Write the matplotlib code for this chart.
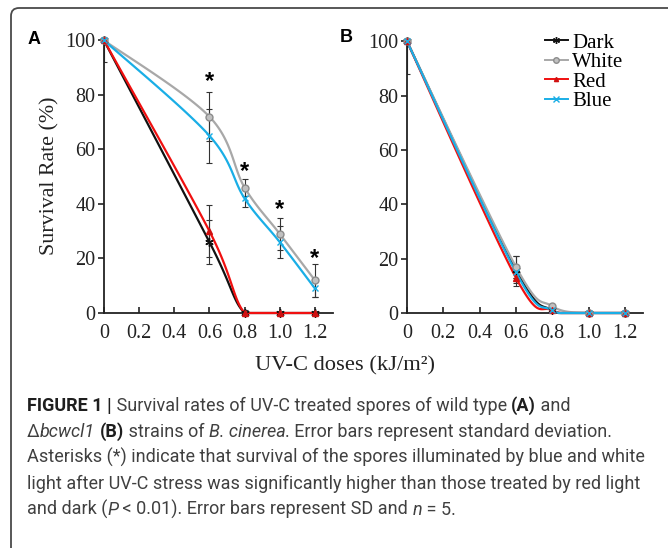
import numpy as np
import matplotlib
matplotlib.use("Agg")
import matplotlib.pyplot as plt
from matplotlib.patches import FancyBboxPatch
from matplotlib.transforms import IdentityTransform

plt.rcParams["font.family"] = ["Liberation Serif", "DejaVu Serif"]

W, H = 668, 548

# UV-C doses (kJ/m2)
doses = [0, 0.6, 0.8, 1.0, 1.2]
labels = ["Dark", "White", "Red", "Blue"]
xticks = [0, 0.2, 0.4, 0.6, 0.8, 1.0, 1.2]
xticklabels = ["0", "0.2", "0.4", "0.6", "0.8", "1.0", "1.2"]

# panel A - wild type
a_dark = [100, 26, 0, 0, 0]
a_dark_sd = [8, 8, 1, 0, 0]
a_white = [100, 72, 46, 29, 12]
a_white_sd = [0, 9, 3, 6, 6]
a_red = [100, 30, 0, 0, 0]
a_red_sd = [0, 9.5, 0, 0, 0]
a_blue = [100, 65, 42, 26, 9]
a_blue_sd = [0, 10, 3, 6, 3]
# asterisks above white/blue
star_x = [0.6, 0.8, 1.0, 1.2]
star_y = [85, 52, 38, 20]

# panel B - delta bcwcl1
b_dark = [100, 16, 1, 0, 0]
b_dark_sd = [12, 5, 0.5, 0, 0]
b_white = [100, 17, 2.5, 0, 0]
b_white_sd = [0, 4, 0.5, 0, 0]
b_red = [100, 13, 1, 0, 0]
b_red_sd = [0, 3, 0, 0, 0]
b_blue = [100, 15, 1, 0, 0]
b_blue_sd = [0, 2, 0, 0, 0]

styles = {
    "Dark": dict(color="#111111", marker=(6, 2, 0), ms=6, mfc="#111111", mec="#111111"),
    "White": dict(color="#a8a8a8", marker="o", ms=5, mfc="#c0c0c0", mec="#8c8c8c"),
    "Red": dict(color="#f01010", marker="^", ms=4, mfc="#d01010", mec="#d01010"),
    "Blue": dict(color="#1aaee6", marker="x", ms=5, mfc="#1aaee6", mec="#1aaee6"),
}


def smooth(x, y, n=30):
    # excel-like smoothed line (catmull-rom as bezier)
    x = np.asarray(x, float)
    y = np.asarray(y, float)
    px = np.concatenate([[x[0]], x, [x[-1]]])
    py = np.concatenate([[y[0]], y, [y[-1]]])
    t = np.linspace(0, 1, n)
    xs, ys = [], []
    for i in range(len(x) - 1):
        p0 = np.array([px[i], py[i]])
        p1 = np.array([px[i + 1], py[i + 1]])
        p2 = np.array([px[i + 2], py[i + 2]])
        p3 = np.array([px[i + 3], py[i + 3]])
        c1 = p1 + (p2 - p0) / 6
        c2 = p2 - (p3 - p1) / 6
        b = ((1 - t) ** 3)[:, None] * p1 + (3 * (1 - t) ** 2 * t)[:, None] * c1 \
            + (3 * (1 - t) * t ** 2)[:, None] * c2 + (t ** 3)[:, None] * p2
        xs.append(b[:, 0])
        ys.append(b[:, 1])
    return np.concatenate(xs), np.maximum(np.concatenate(ys), 0)


def draw_panel(ax, data):
    for name, (vals, sd) in zip(labels, data):
        st = styles[name]
        sx, sy = smooth(doses, vals)
        ax.errorbar(doses, vals, yerr=sd, fmt="none", ecolor="#333333",
                    elinewidth=0.8, capsize=2, capthick=0.8, zorder=2)
        ax.plot(sx, sy, color=st["color"], lw=1.6, clip_on=False, zorder=3)
        ax.plot(doses, vals, ls="none", marker=st["marker"], ms=st["ms"],
                mfc=st["mfc"], mec=st["mec"], mew=1, clip_on=False, zorder=4,
                label=name)
    ax.set_xlim(0, 1.3)
    ax.set_ylim(0, 100.5)
    ax.set_xticks(xticks)
    ax.set_xticklabels(xticklabels)
    ax.set_yticks([0, 20, 40, 60, 80, 100])
    for s in ["top", "right"]:
        ax.spines[s].set_visible(False)
    for s in ["left", "bottom"]:
        ax.spines[s].set_linewidth(1.3)
        ax.spines[s].set_color("#222222")
    ax.tick_params(axis="x", direction="in", length=4, width=1.2, pad=8,
                   labelsize=14.5, colors="#222222")
    ax.tick_params(axis="y", direction="out", length=4, width=1.2, pad=2,
                   labelsize=14.5, colors="#222222")


fig = plt.figure(figsize=(W / 100, H / 100), dpi=100)

ax_a = fig.add_axes([104 / W, 1 - 313 / H, 228.5 / W, 274 / H])
draw_panel(ax_a, [(a_dark, a_dark_sd), (a_white, a_white_sd),
                  (a_red, a_red_sd), (a_blue, a_blue_sd)])
for x, y in zip(star_x, star_y):
    ax_a.text(x, y, "*", ha="center", va="center", fontsize=17,
              fontweight="bold", family="Liberation Sans")

ax_b = fig.add_axes([407 / W, 1 - 313 / H, 236 / W, 273 / H])
draw_panel(ax_b, [(b_dark, b_dark_sd), (b_white, b_white_sd),
                  (b_red, b_red_sd), (b_blue, b_blue_sd)])

# legend with line + marker handles
handles = []
for name in labels:
    st = styles[name]
    h, = ax_b.plot([], [], color=st["color"], lw=1.4, marker=st["marker"],
                   ms=st["ms"] - 1, mfc=st["mfc"], mec=st["mec"])
    handles.append(h)
ax_b.legend(handles, labels, loc="upper left",
            bbox_to_anchor=(545 / W, 1 - 33 / H), bbox_transform=fig.transFigure,
            frameon=False, fontsize=15, handlelength=1.1, handletextpad=0.2,
            labelspacing=0.0, borderpad=0, borderaxespad=0)

fig.text(50 / W, 1 - 176 / H, "Survival Rate (%)", rotation=90, ha="center",
         va="center", fontsize=15.8, color="#222222")
fig.text(345 / W, 1 - 366 / H, "UV-C doses (kJ/m²)", ha="center", va="center",
         fontsize=16.2, color="#222222")
fig.text(34 / W, 1 - 39 / H, "A", ha="center", va="center", fontsize=13,
         fontweight="bold", family="Liberation Sans")
fig.text(346 / W, 1 - 37 / H, "B", ha="center", va="center", fontsize=13,
         fontweight="bold", family="Liberation Sans")

# rounded frame, cut by the right and bottom edges
frame = FancyBboxPatch((11, -40), 800, H - 8 + 40,
                       boxstyle="round,pad=0,rounding_size=8",
                       transform=IdentityTransform(), fill=False,
                       ec="#4a4a4a", lw=1.3)
fig.add_artist(frame)

# caption, laid out run by run
cap_font = ["Roboto", "DejaVu Sans"]
cap_lines = [
    [("FIGURE 1 |", "bold"), (" Survival rates of UV-C treated spores of wild type ", "normal"),
     ("(A)", "bold"), (" and", "normal")],
    [("Δ", "normal"), ("bcwcl1", "italic"), (" ", "normal"), ("(B)", "bold"),
     (" strains of ", "normal"), ("B. cinerea", "italic"),
     (". Error bars represent standard deviation.", "normal")],
    [("Asterisks (*) indicate that survival of the spores illuminated by blue and white", "normal")],
    [("light after UV-C stress was significantly higher than those treated by red light", "normal")],
    [("and dark (", "normal"), ("P", "italic"), (" < 0.01). Error bars represent SD and ", "normal"),
     ("n", "italic"), (" = 5.", "normal")],
]
renderer = fig.canvas.get_renderer()

# fit the font size so the longest line spans the same width as in the figure
probe = fig.text(0, 0, cap_lines[3][0][0], fontsize=14, family=cap_font)
cap_size = 14 * 614 / probe.get_window_extent(renderer=renderer).width
probe.remove()

for k, runs in enumerate(cap_lines):
    x = 27
    y = H - (411 + 26 * k)
    for s, kind in runs:
        kw = dict(fontsize=cap_size, family=cap_font, color="#404040")
        if kind == "bold":
            kw.update(fontweight="bold", color="#1e1e1e")
        elif kind == "italic":
            kw.update(style="italic")
        t = fig.text(x / W, y / H, s, ha="left", va="baseline", **kw)
        x = t.get_window_extent(renderer=renderer).x1

fig.savefig("out.png", dpi=100)
